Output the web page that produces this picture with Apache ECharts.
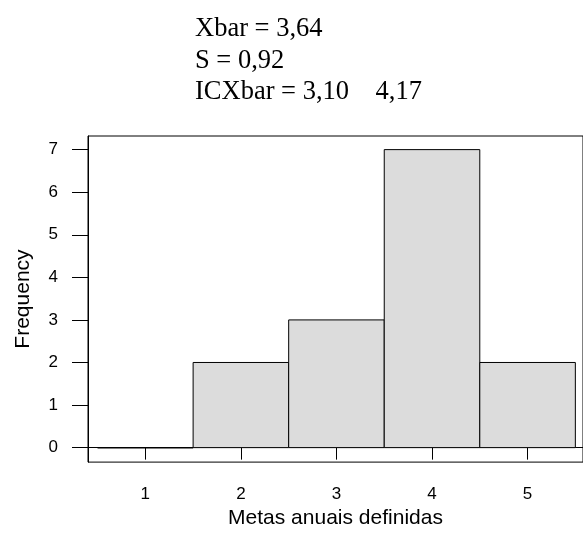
<!DOCTYPE html>
<html>
<head>
<meta charset="utf-8">
<script src="https://cdn.jsdelivr.net/npm/echarts@6/dist/echarts.min.js"></script>
<style>
  html, body { margin: 0; padding: 0; background: #fff; }
  #eChart { width: 583px; height: 534px; }
</style>
</head>
<body>
<div id="eChart"></div>
<script>
// histogram bins and counts
const binLower = [0.5, 1.5, 2.5, 3.5, 4.5];
const binUpper = [1.5, 2.5, 3.5, 4.5, 5.5];
const counts = [0, 2, 3, 7, 2];
const xTicks = [1, 2, 3, 4, 5];
const yTicks = [0, 1, 2, 3, 4, 5, 6, 7];
const statLines = ["Xbar = 3,64", "S = 0,92", "ICXbar = 3,10    4,17"];

const histData = binLower.map((lo, i) => [lo, binUpper[i], counts[i]]);

const myChart = echarts.init(document.getElementById("eChart"), null, {
  renderer: "canvas",
});

const sans = "Liberation Sans, Arial, sans-serif";

myChart.setOption({
  animation: false,
  backgroundColor: "#fff",
  grid: {
    left: 88,
    right: 0,
    top: 136,
    bottom: 67,
    show: true,
    borderColor: "#000",
    borderWidth: 1,
  },
  xAxis: {
    type: "value",
    min: 0.4,
    max: 5.58,
    name: "Metas anuais definidas",
    nameLocation: "middle",
    nameGap: 43,
    nameTextStyle: { fontFamily: sans, fontSize: 21, color: "#000" },
    axisLine: { show: true, lineStyle: { color: "#000", width: 1 } },
    axisTick: {
      show: true,
      length: 12,
      customValues: xTicks,
      lineStyle: { color: "#000" },
    },
    axisLabel: {
      customValues: xTicks,
      margin: 24,
      fontFamily: sans,
      fontSize: 17,
      color: "#000",
    },
    splitLine: { show: false },
  },
  yAxis: {
    type: "value",
    min: -0.34,
    max: 7.32,
    name: "Frequency",
    nameLocation: "middle",
    nameGap: 54,
    nameTextStyle: { fontFamily: sans, fontSize: 21, color: "#000" },
    axisLine: { show: true, lineStyle: { color: "#000", width: 1 } },
    axisTick: {
      show: true,
      length: 16,
      customValues: yTicks,
      lineStyle: { color: "#000" },
    },
    axisLabel: {
      customValues: yTicks,
      margin: 30,
      fontFamily: sans,
      fontSize: 17,
      color: "#000",
    },
    splitLine: { show: false },
  },
  graphic: statLines.map((line, i) => ({
    type: "text",
    left: 195,
    top: 16 + i * 31.3,
    style: {
      text: line,
      font: "26.5px 'Liberation Serif', 'Times New Roman', serif",
      fill: "#000",
    },
  })),
  series: [
    {
      type: "custom",
      data: histData,
      encode: { x: [0, 1], y: 2 },
      renderItem: function (params, api) {
        const p0 = api.coord([api.value(0), 0]);
        const p1 = api.coord([api.value(1), api.value(2)]);
        // empty bin: R draws it as a flat line on zero
        if (api.value(2) === 0) {
          return {
            type: "line",
            shape: { x1: p0[0], y1: p0[1], x2: p1[0], y2: p0[1] },
            style: { stroke: "#000", lineWidth: 1.5 },
          };
        }
        return {
          type: "rect",
          shape: {
            x: p0[0],
            y: p1[1],
            width: p1[0] - p0[0],
            height: p0[1] - p1[1],
          },
          style: {
            fill: "#dcdcdc",
            stroke: "#000",
            lineWidth: 1,
          },
        };
      },
    },
  ],
});
</script>
</body>
</html>
